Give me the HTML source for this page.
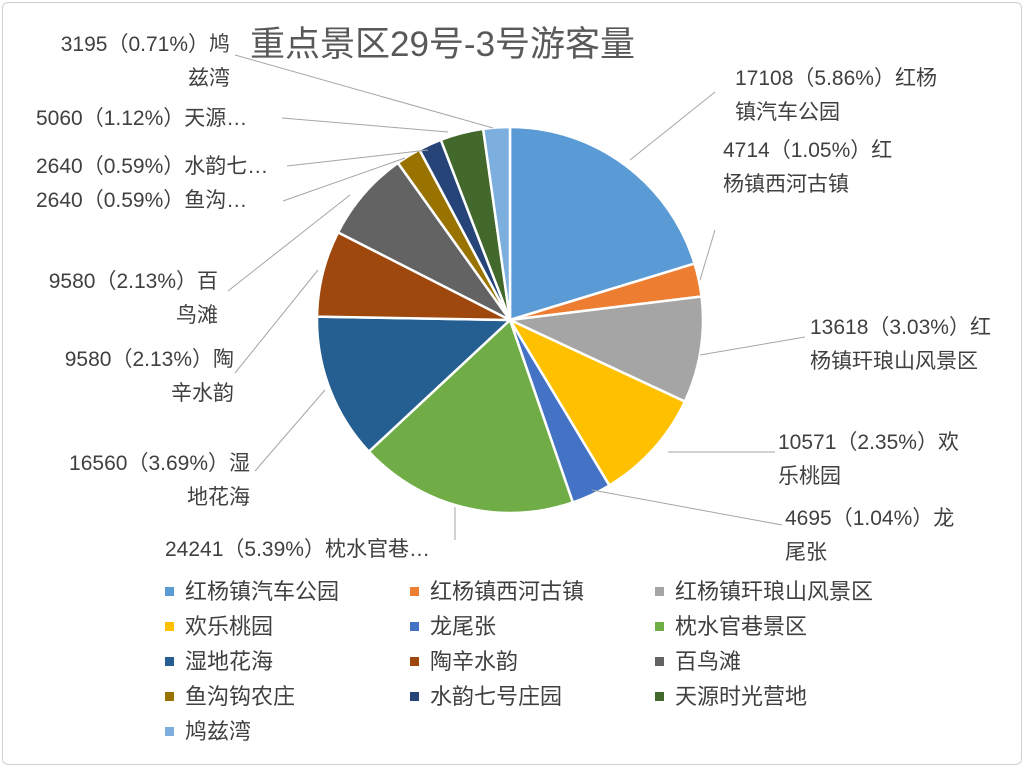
<!DOCTYPE html>
<html><head><meta charset="utf-8"><style>
body{margin:0;background:#fff;}
#c{position:relative;width:1024px;height:767px;overflow:hidden;font-family:"Liberation Sans","Noto Sans CJK SC",sans-serif;color:#404040;}
.frame{position:absolute;left:2px;top:2px;width:1018px;height:761px;border:1px solid #d0d0d0;border-radius:6px;}
.t{position:absolute;font-size:21px;line-height:34px;white-space:nowrap;}
.r{text-align:right}
.title{position:absolute;left:250px;top:16px;font-size:35px;color:#595959;}
.lg{position:absolute;font-size:22px;white-space:nowrap;}
.lg i{display:inline-block;width:9px;height:9px;margin-right:11px;vertical-align:middle;position:relative;top:-2px;}
</style></head><body><div id="c">
<div class="frame"></div>
<svg id="s" width="1024" height="767" style="position:absolute;left:0;top:0"></svg>
<div class="title">重点景区29号-3号游客量</div>
<div class="t r" style="right:794px;top:28px">3195（0.71%）鸠<br>兹湾</div>
<div class="t" style="left:36px;top:102px">5060（1.12%）天源…</div>
<div class="t" style="left:36px;top:150px">2640（0.59%）水韵七…</div>
<div class="t" style="left:36px;top:184px">2640（0.59%）鱼沟…</div>
<div class="t r" style="right:806px;top:265px">9580（2.13%）百<br>鸟滩</div>
<div class="t r" style="right:790px;top:343px">9580（2.13%）陶<br>辛水韵</div>
<div class="t r" style="right:774px;top:447px">16560（3.69%）湿<br>地花海</div>
<div class="t" style="left:165px;top:533px">24241（5.39%）枕水官巷…</div>
<div class="t" style="left:735px;top:62px">17108（5.86%）红杨<br>镇汽车公园</div>
<div class="t" style="left:723px;top:134px">4714（1.05%）红<br>杨镇西河古镇</div>
<div class="t" style="left:810px;top:311px">13618（3.03%）红<br>杨镇玕琅山风景区</div>
<div class="t" style="left:778px;top:426px">10571（2.35%）欢<br>乐桃园</div>
<div class="t" style="left:785px;top:502px">4695（1.04%）龙<br>尾张</div>
<div id="leg"></div>
</div>
<script>
var ang=[-90,-17,-7,25,59,71,137,181,207,234.5,242,249,262,270];
var col=["#5B9BD5","#ED7D31","#A5A5A5","#FFC000","#4472C4","#70AD47","#255E91","#9E480E","#636363","#997300","#264478","#43682B","#7CAFDD"];
var names=["红杨镇汽车公园","红杨镇西河古镇","红杨镇玕琅山风景区","欢乐桃园","龙尾张","枕水官巷景区","湿地花海","陶辛水韵","百鸟滩","鱼沟钩农庄","水韵七号庄园","天源时光营地","鸠兹湾"];
var cx=510,cy=320,R=193,h="";
var lines=[[715,92,630,160],[715,230,700,280],[805,337,700,355],[775,452,668,452],[782,525,592,490],[455,540,455,507],[255,471,325,390],[235,373,318,270],[228,291,350,195],[283,201,405,158],[287,166,428,150],[282,118,448,132],[235,55,493,128]];
for(var i=0;i<col.length;i++){var a=ang[i]*Math.PI/180,b=ang[i+1]*Math.PI/180;
var x1=cx+R*Math.cos(a),y1=cy+R*Math.sin(a),x2=cx+R*Math.cos(b),y2=cy+R*Math.sin(b);
h+='<path d="M'+cx+','+cy+' L'+x1+','+y1+' A'+R+','+R+' 0 '+((b-a)>Math.PI?1:0)+' 1 '+x2+','+y2+' Z" fill="'+col[i]+'" stroke="#fff" stroke-width="2.5"/>';}
lines.forEach(l=>{h+='<line x1="'+l[0]+'" y1="'+l[1]+'" x2="'+l[2]+'" y2="'+l[3]+'" stroke="#a6a6a6" stroke-width="1"/>';});
document.getElementById('s').innerHTML=h;
var g="";for(var i=0;i<names.length;i++){var r=Math.floor(i/3),c=i%3;
g+='<div class="lg" style="left:'+(165+c*245)+'px;top:'+(574+r*35)+'px"><i style="background:'+col[i]+'"></i>'+names[i]+'</div>';}
document.getElementById('leg').innerHTML=g;
</script></body></html>
